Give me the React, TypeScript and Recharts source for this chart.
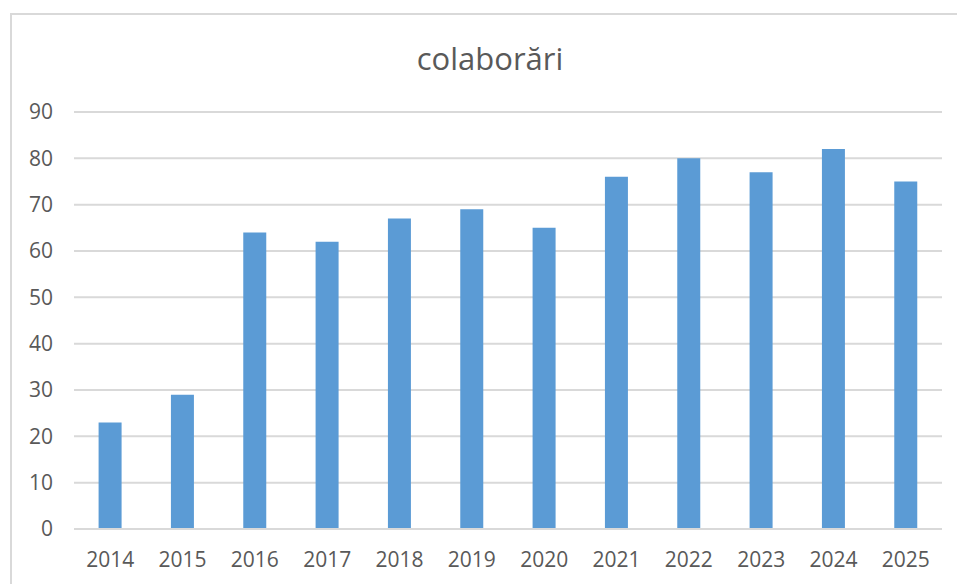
import { BarChart, Bar, XAxis, YAxis, CartesianGrid } from "recharts";

const years = ["2014", "2015", "2016", "2017", "2018", "2019", "2020", "2021", "2022", "2023", "2024", "2025"];
const colaborari = [23, 29, 64, 62, 67, 69, 65, 76, 80, 77, 82, 75];
const yTicks = [0, 10, 20, 30, 40, 50, 60, 70, 80, 90];

const data = years.map((year, i) => ({ year, value: colaborari[i] }));

const FONT = "'Open Sans', sans-serif";
const TEXT = "#595959";
const GRID = "#d9d9d9";

export default function App() {
  return (
    <div>
      <div
        style={{
          position: "absolute",
          left: 10,
          top: 13,
          width: 947,
          height: 571,
          borderTop: `2px solid ${GRID}`,
          borderLeft: `2px solid ${GRID}`,
          boxSizing: "border-box",
          overflow: "hidden",
          background: "#fff",
        }}
      >
        <BarChart
          width={945}
          height={569}
          data={data}
          margin={{ top: 97, right: 15, bottom: 25, left: 0 }}
          barCategoryGap="34%"
        >
          <CartesianGrid vertical={false} stroke={GRID} strokeWidth={2} />
          <XAxis
            dataKey="year"
            axisLine={{ stroke: GRID, strokeWidth: 2 }}
            tickLine={false}
            tickMargin={17}
            tick={{ fill: TEXT, fontSize: 21, fontFamily: FONT }}
          />
          <YAxis
            width={62}
            domain={[0, 90]}
            ticks={yTicks}
            axisLine={false}
            tickLine={false}
            tickMargin={15}
            tick={{ fill: TEXT, fontSize: 21, fontFamily: FONT }}
          />
          <Bar dataKey="value" fill="#5b9bd5" isAnimationActive={false} />
        </BarChart>
      </div>
      <div
        style={{
          position: "absolute",
          left: 10,
          top: 38,
          width: 960,
          textAlign: "center",
          fontFamily: FONT,
          fontSize: 31,
          lineHeight: "40px",
          color: TEXT,
        }}
      >
        colaborări
      </div>
    </div>
  );
}
